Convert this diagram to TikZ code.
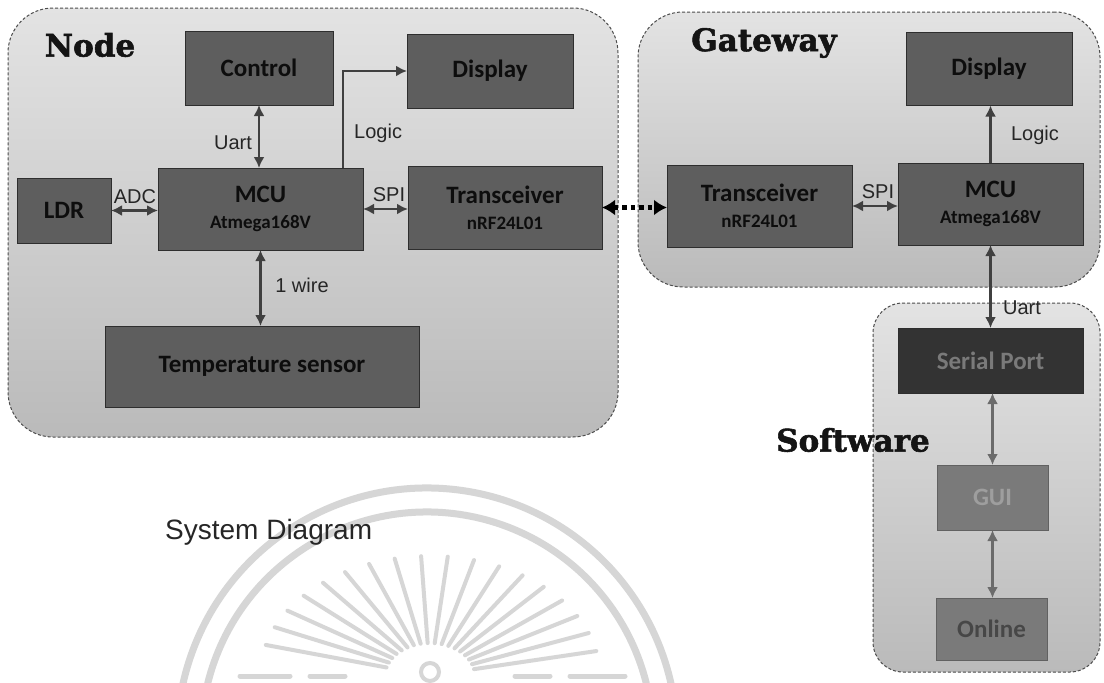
\documentclass[tikz,border=0pt]{standalone}
\usepackage{fontspec}
\usetikzlibrary{arrows.meta,calc}
\newfontfamily\boxfont{Carlito}
\newfontfamily\lblfont{Liberation Sans}
\newfontfamily\titlefont[UprightFont={* Bold}, UprightFeatures={FakeBold=1.8}]{DejaVu Serif}
\tikzset{
  panel/.style={draw=black!70, dash pattern=on 3pt off 2pt, line width=1pt,
    rounded corners=45pt, top color=black!11, bottom color=black!27, inner sep=0pt, outer sep=0pt},
  box/.style={draw=black!82, line width=0.9pt, fill=black!63, text=black!95,
    inner sep=0pt, outer sep=0pt, align=center,
    font=\boxfont\bfseries\fontsize{25}{27}\selectfont},
  lbl/.style={font=\lblfont\fontsize{20}{22}\selectfont, text=black!85, inner sep=1pt},
  ttl/.style={font=\titlefont\fontsize{31}{34}\selectfont, text=black!92, inner sep=0pt},
  tipA/.tip={Latex[length=11pt,width=11pt]},
  link/.style={draw=black!75, line width=2.8pt, tipA-tipA},
  onelink/.style={draw=black!75, line width=2.8pt, -tipA},
  softlink/.style={draw=black!58, line width=2.6pt, tipA-tipA},
  radio/.style={draw=black, line width=4.5pt, dash pattern=on 4.5pt off 4pt,
    {Latex[length=13pt,width=16pt]}-{Latex[length=13pt,width=16pt]}},
  wm/.style={draw=black!16, line cap=round}
}
\newcommand{\subtxt}[1]{{\fontsize{19}{21}\selectfont #1}}
\begin{document}
\begin{tikzpicture}[x=1pt,y=-1pt]
\useasboundingbox[fill=white] (0,0) rectangle (1104,683);

% faint watermark
\draw[wm, line width=7pt] (427,738) ++(192:250) arc[start angle=192, end angle=348, radius=250];
\draw[wm, line width=7pt] (427,738) ++(194:226) arc[start angle=194, end angle=346, radius=226];
\foreach \a in {12,21,...,168}{
  \draw[wm, line width=4pt] ($(430,676)+({45*cos(\a)},{-33*sin(\a)})$) -- ($(430,676)+({170*cos(\a)},{-120*sin(\a)})$);
}
\draw[wm, line width=4pt] (430,672) circle[radius=9];
\foreach \xa/\xb in {240/290, 310/345, 515/550, 570/625}{
  \draw[wm, line width=5pt] (\xa,676) -- (\xb,676);
}

% panels
\node[panel, minimum width=610pt, minimum height=429pt] (nodepanel) at (313,222.5) {};
\node[panel, minimum width=462pt, minimum height=275pt] (gwpanel) at (869,149.5) {};
\node[panel, minimum width=227pt, minimum height=369pt, rounded corners=30pt] (swpanel) at (986.5,487.5) {};

% titles
\node[ttl] (tnode) at (90,45) {Node};
\node[ttl] (tgw) at (764,43) {Gateway};
\node[ttl] (tsw) at (853,440) {Software};
\node[anchor=west, font=\lblfont\fontsize{28}{30}\selectfont, text=black!85, inner sep=0pt] (tsys) at (165,532) {System Diagram};

% node boxes
\node[box, minimum width=148pt, minimum height=74pt] (control) at (259,68) {Control};
\node[box, minimum width=166pt, minimum height=74pt] (dispN) at (490,71) {Display};
\node[box, minimum width=94pt, minimum height=65pt] (ldr) at (64,210.5) {LDR};
\node[box, minimum width=205pt, minimum height=82pt] (mcuN) at (260.5,209) {MCU\\[-1pt]\subtxt{Atmega168V}};
\node[box, minimum width=194pt, minimum height=83pt] (transN) at (505,207.5) {Transceiver\\[-1pt]\subtxt{nRF24L01}};
\node[box, minimum width=314pt, minimum height=81pt] (temp) at (262,366.5) {Temperature sensor};

% gateway boxes
\node[box, minimum width=166pt, minimum height=73pt] (dispG) at (989,69) {Display};
\node[box, minimum width=185pt, minimum height=82pt] (transG) at (759.5,206) {Transceiver\\[-1pt]\subtxt{nRF24L01}};
\node[box, minimum width=185pt, minimum height=82pt] (mcuG) at (990.5,204) {MCU\\[-1pt]\subtxt{Atmega168V}};

% software boxes
\node[box, fill=black!80, text=black!52, minimum width=185pt, minimum height=65pt] (serial) at (990.5,360.5) {Serial Port};
\node[box, fill=black!52, draw=black!62, text=black!38, minimum width=111pt, minimum height=65pt] (gui) at (992.5,497.5) {GUI};
\node[box, fill=black!52, draw=black!62, text=black!72, minimum width=111pt, minimum height=62pt] (online) at (991.5,629) {Online};

% connectors, node
\draw[link] (control.south) -- (control.south |- mcuN.north);
\draw[link] (ldr.east) -- (ldr.east -| mcuN.west);
\draw[link] (mcuN.east) -- (mcuN.east -| transN.west);
\draw[link] (mcuN.south) -- (mcuN.south |- temp.north);
\coordinate (logicstart) at ($(mcuN.north east)+(-20,0)$);
\draw[onelink] (logicstart) |- (dispN.west);
% radio link
\draw[radio] (transN.east) -- (transN.east -| transG.west);
% gateway
\draw[link] (transG.east) -- (transG.east -| mcuG.west);
\draw[onelink] (mcuG.north) -- (mcuG.north |- dispG.south);
\draw[link] (mcuG.south) -- (mcuG.south |- serial.north);
% software
\draw[softlink] (gui.north |- serial.south) -- (gui.north);
\draw[softlink] (gui.south) -- (gui.south |- online.north);

% labels
\node[lbl] (luartN) at (233,143) {Uart};
\node[lbl, anchor=west] (llogicN) at (353,133) {Logic};
\node[lbl] (ladc) at (135,197) {ADC};
\node[lbl] (lspiN) at (389,195) {SPI};
\node[lbl] (lwire) at (302,285) {1 wire};
\node[lbl] (lspiG) at (878,192) {SPI};
\node[lbl] (llogicG) at (1035,135) {Logic};
\node[lbl] (luartG) at (1022,308) {Uart};
\end{tikzpicture}
\end{document}
